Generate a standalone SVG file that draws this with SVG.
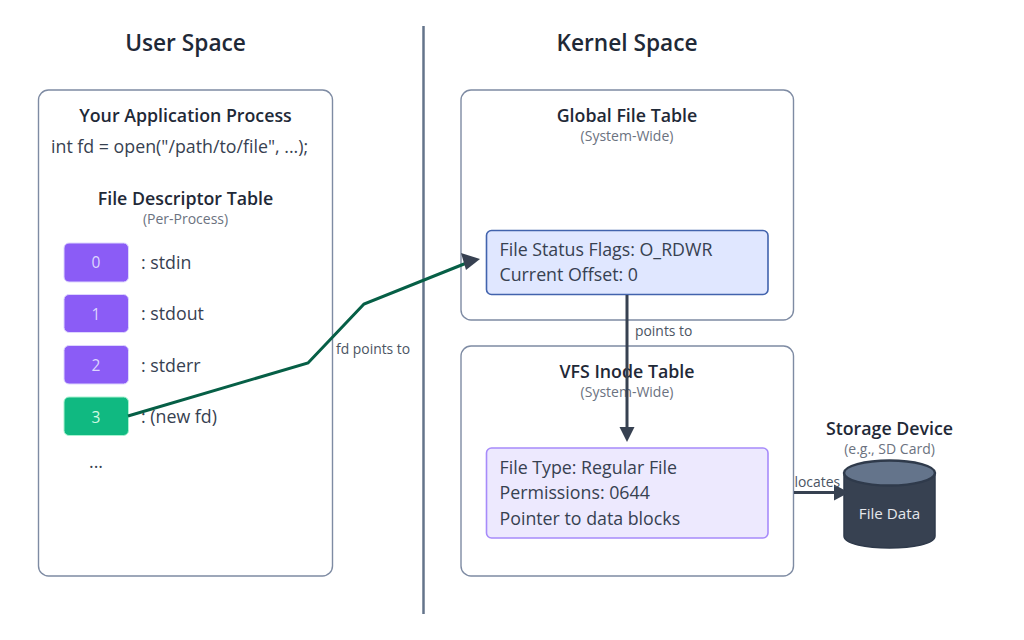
<svg xmlns="http://www.w3.org/2000/svg" width="1024" height="640" viewBox="0 0 1024 640">
<style>
text{font-family:"Open Sans","Noto Sans","Liberation Sans",sans-serif;fill:#374151}
.h{font-size:22.7px;font-weight:600;fill:#1f2937;text-anchor:middle}
.t{font-size:17.8px;font-weight:600;fill:#1f2937;text-anchor:middle}
.s{font-size:14px;fill:#6b7280;text-anchor:middle}
.b{font-size:17.8px}
.e{font-size:13.9px;fill:#4b5563}
.box{fill:#fff;stroke:#7e8ba3;stroke-width:1.4}
.p{fill:#8b5cf6;stroke:#ddd6fe;stroke-width:1}
.n{font-size:15.5px;fill:#ddd6fe;text-anchor:middle}
.c{fill:none;stroke-width:3}
</style>
<rect width="1024" height="640" fill="#fff"/>
<text class="h" x="185.500" y="51">User Space</text>
<text class="h" x="627" y="51">Kernel Space</text>
<line x1="423.500" y1="26" x2="423.500" y2="614" stroke="#64748b" stroke-width="2.500"/>

<g id="user-process">
<rect class="box" x="38.500" y="90" width="294" height="486" rx="10"/>
<text class="t" x="185.500" y="122">Your Application Process</text>
<text class="b" x="51" y="153">int fd = open("/path/to/file", ...);</text>
<text class="t" x="185.500" y="204.500">File Descriptor Table</text>
<text class="s" x="185.500" y="224">(Per-Process)</text>
</g>
<g id="fd0"><rect class="p" x="64" y="243" width="64.500" height="39" rx="5"/><text class="n" x="96" y="268">0</text><text class="b" x="141" y="268.500">: stdin</text></g>
<g id="fd1"><rect class="p" x="64" y="294.500" width="64.500" height="38" rx="5"/><text class="n" x="96" y="319.500">1</text><text class="b" x="141" y="320">: stdout</text></g>
<g id="fd2"><rect class="p" x="64" y="345.500" width="64.500" height="38.500" rx="5"/><text class="n" x="96" y="371">2</text><text class="b" x="141" y="371.500">: stderr</text></g>
<g id="fd3"><rect x="64" y="397" width="64.500" height="38.500" rx="5" fill="#10b981" stroke="#a7f3d0"/><text class="n" x="96" y="422.500" style="fill:#d1fae5">3</text><text class="b" x="141" y="423">: (new fd)</text></g>
<g id="ellipsis"><text class="b" x="96" y="468" text-anchor="middle">...</text></g>

<g id="global-file-table">
<rect class="box" x="461" y="90" width="332.500" height="230" rx="10"/>
<text class="t" x="627" y="122">Global File Table</text>
<text class="s" x="627" y="141">(System-Wide)</text>
</g>
<g id="file-entry">
<rect x="486.500" y="230.500" width="281.500" height="64" rx="5" fill="#e0e7ff" stroke="#4263ad" stroke-width="1.600"/>
<text class="b" x="499.500" y="256">File Status Flags: O_RDWR</text>
<text class="b" x="499.500" y="281">Current Offset: 0</text>
</g>
<g id="vfs-inode-table">
<rect class="box" x="461" y="346" width="332.500" height="230" rx="10"/>
<text class="t" x="627" y="377.500">VFS Inode Table</text>
<text class="s" x="627" y="397">(System-Wide)</text>
</g>
<g id="inode-entry">
<rect x="486.500" y="448" width="281.500" height="90" rx="5" fill="#ede9fe" stroke="#a78bfa" stroke-width="1.600"/>
<text class="b" x="499.500" y="473.500">File Type: Regular File</text>
<text class="b" x="499.500" y="499">Permissions: 0644</text>
<text class="b" x="499.500" y="524.500">Pointer to data blocks</text>
</g>
<g id="storage-device">
<text class="t" x="889.500" y="435">Storage Device</text>
<text class="s" x="889.500" y="454">(e.g., SD Card)</text>
<path d="M844 473V536C844 552 935 552 935 536V473Z" fill="#374151" stroke="#2f3a4b" stroke-width="1.500"/>
<ellipse cx="889.500" cy="473" rx="45.500" ry="12.500" fill="#64748b" stroke="#2f3a4b" stroke-width="2.500"/>
<text x="889.500" y="518.500" text-anchor="middle" style="font-size:15.2px;fill:#e5e7eb">File Data</text>
</g>
<g id="connectors">
<path class="c" d="M128 416L308 363L364 304L469 262" stroke="#065f46"/>
<path d="M480 259L466 270L461 253Z" fill="#374151"/>
<path class="c" d="M627 295V428" stroke="#374151"/>
<path d="M619.500 427H634.500L627 442Z" fill="#374151"/>
<path d="M794 492.500H835" stroke="#374151" stroke-width="3" fill="none"/>
<path d="M834 484.500L849 492.500L834 500.500Z" fill="#374151"/>
<text class="e" x="336" y="354">fd points to</text>
<text class="e" x="635" y="336">points to</text>
<text class="e" x="794.500" y="486.500">locates</text>
</g>
</svg>
